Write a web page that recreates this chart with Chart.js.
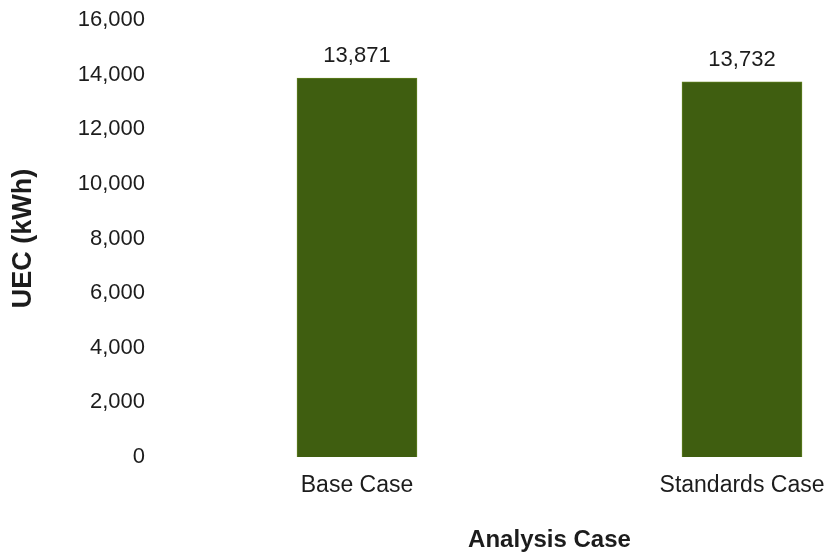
<!DOCTYPE html>
<html>
<head>
<meta charset="utf-8">
<script src="https://cdn.jsdelivr.net/npm/chart.js@4/dist/chart.umd.min.js"></script>
<style>
  html, body { margin: 0; padding: 0; background: #ffffff; overflow: hidden; }
  #wrap { width: 945px; height: 557px; }
</style>
</head>
<body>
<div id="wrap"><canvas id="chart" width="945" height="557"></canvas></div>
<script>
// Annual unit energy consumption per analysis case
const categories = ['Base Case', 'Standards Case'];
const uecValues = [13871, 13732];
const yTickMax = 16000;
const yTickStep = 2000;

const textColor = '#1c1c1c';
const barColor = '#3f5e10';
const fontFamily = '"Liberation Sans", Arial, Helvetica, sans-serif';

// Draws each bar's value just above it
const valueLabels = {
  id: 'valueLabels',
  afterDatasetsDraw(chart) {
    const ctx = chart.ctx;
    ctx.save();
    ctx.font = '22px ' + fontFamily;
    ctx.fillStyle = textColor;
    ctx.textAlign = 'center';
    ctx.textBaseline = 'alphabetic';
    chart.data.datasets.forEach((ds, di) => {
      chart.getDatasetMeta(di).data.forEach((bar, i) => {
        ctx.fillText(ds.data[i].toLocaleString('en-US'), bar.x, bar.y - 16);
      });
    });
    ctx.restore();
  }
};

new Chart(document.getElementById('chart'), {
  type: 'bar',
  data: {
    labels: categories,
    datasets: [{
      label: 'UEC (kWh)',
      data: uecValues,
      backgroundColor: barColor,
      borderColor: '#5f7f1e',
      borderWidth: 1,
      barThickness: 120
    }]
  },
  options: {
    responsive: false,
    animation: false,
    devicePixelRatio: 1,
    layout: { padding: { left: 0, right: 10.5, top: 20, bottom: 0 } },
    plugins: {
      legend: { display: false },
      tooltip: { enabled: false }
    },
    scales: {
      x: {
        grid: { display: false, drawTicks: false },
        border: { display: false },
        ticks: {
          color: textColor,
          padding: 15,
          font: { family: fontFamily, size: 23 }
        },
        title: {
          display: true,
          text: 'Analysis Case',
          color: textColor,
          padding: { top: 0, bottom: 2.6 },
          font: { family: fontFamily, size: 24, weight: 'bold' }
        },
        afterFit(scale) { scale.height = 100; }
      },
      y: {
        min: 0,
        max: yTickMax,
        // hidden tick marks keep the gap between labels and bars
        grid: { display: false, drawTicks: true, tickLength: 16.5 },
        border: { display: false },
        ticks: {
          stepSize: yTickStep,
          color: textColor,
          padding: 3,
          font: { family: fontFamily, size: 22 },
          callback: (v) => v.toLocaleString('en-US')
        },
        title: {
          display: true,
          text: 'UEC (kWh)',
          color: textColor,
          padding: { top: 7, bottom: 0 },
          font: { family: fontFamily, size: 27, weight: 'bold' }
        },
        afterFit(scale) { scale.width = 164.5; }
      }
    }
  },
  plugins: [valueLabels]
});
</script>
</body>
</html>
